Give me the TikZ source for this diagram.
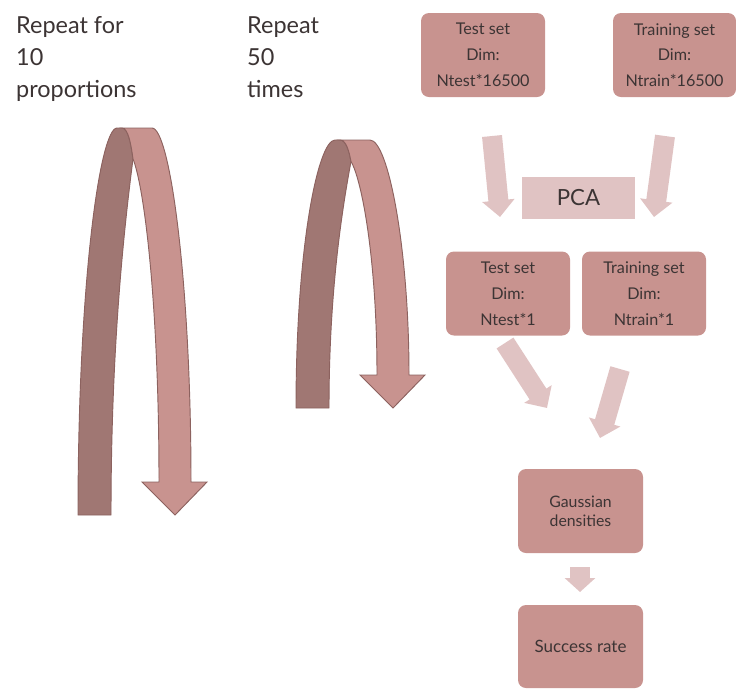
\documentclass[tikz,border=0pt]{standalone}
\usepackage{fontspec}
\setmainfont{Lato}
\usetikzlibrary{arrows.meta}

\definecolor{boxrose}{HTML}{C8938F}
\definecolor{pale}{HTML}{E0C3C3}
\definecolor{darkrose}{HTML}{A07773}
\definecolor{rim}{HTML}{8C625F}
\definecolor{ink}{HTML}{3C3434}

% U-Pfeil: #1 = linker Rand, #2 = unten, #3 = oben (in px)
\newcommand{\uturnarrow}[3]{%
	\draw[rim, line width=0.8pt, fill=darkrose] (#1,#2)
	.. controls (#1,{#3+0.4*(#2-#3)}) and ({#1+22},#3) .. ({#1+39},#3)
	-- ({#1+44},#3)
	.. controls ({#1+50},#3) and ({#1+53},{#3+0.04*(#2-#3)}) .. ({#1+55},{#3+0.08*(#2-#3)})
	.. controls ({#1+44},{#3+0.3*(#2-#3)}) and ({#1+33},{#2-0.4*(#2-#3)}) .. ({#1+33},#2)
	-- cycle;
	\draw[rim, line width=0.8pt, fill=boxrose] ({#1+44},#3) -- ({#1+74},#3)
	.. controls ({#1+92},#3) and ({#1+113},{#3+0.4*(#2-#3)}) .. ({#1+113},{#2-33})
	-- ({#1+129},{#2-33}) -- ({#1+97},#2) -- ({#1+64},{#2-33}) -- ({#1+81},{#2-33})
	.. controls ({#1+81},{#3+0.45*(#2-#3)}) and ({#1+66},{#3+0.15*(#2-#3)}) .. ({#1+55},{#3+0.08*(#2-#3)})
	.. controls ({#1+53},{#3+0.04*(#2-#3)}) and ({#1+50},#3) .. ({#1+44},#3)
	-- cycle;
}

\tikzset{
	setbox/.style={fill=boxrose, rounded corners=0.24cm, minimum width=3.72cm,
		minimum height=2.52cm, align=center, text=ink, inner sep=0pt,
		font=\fontsize{13.8}{22}\selectfont},
	flow/.style={pale, line width=0.6cm, -{Triangle[length=0.5cm, width=0.95cm]}},
	repeatnote/.style={anchor=north west, align=left, text=ink, inner sep=0pt,
		font=\fontsize{20}{27.5}\selectfont}
}

\begin{document}
\begin{tikzpicture}[x=0.03cm, y=-0.03cm]
		\useasboundingbox (0,0) rectangle (736,689);
		
		% Wiederholungen
		\node[repeatnote] (rep10) at (16,16) {Repeat for\\10\\proportions};
		\node[repeatnote] (rep50) at (247,16) {Repeat\\50\\times};
		\uturnarrow{78}{515}{128}
		\uturnarrow{296}{408}{140}
		
		% Datensaetze vor der PCA
		\node[setbox] (testfull) at (483,55) {Test set\\Dim:\\Ntest*16500};
		\node[setbox, minimum width=3.69cm] (trainfull) at (674.5,55) {Training set\\Dim:\\Ntrain*16500};
		\node[fill=pale, minimum width=3.39cm, minimum height=1.26cm, text=ink,
		font=\fontsize{19}{22}\selectfont] (pca) at (578.5,198) {PCA};
		
		% Datensaetze nach der PCA
		\node[setbox] (testred) at (508,293.5) {Test set\\Dim:\\Ntest*1};
		\node[setbox] (trainred) at (644,293.5) {Training set\\Dim:\\Ntrain*1};
		
		% Klassifikation
		\node[setbox, minimum width=3.75cm, font=\fontsize{13.5}{16}\selectfont] (gauss) at (580.5,511) {Gaussian\\densities};
		\node[setbox, minimum width=3.75cm, minimum height=2.49cm, font=\fontsize{14.5}{16}\selectfont] (rate) at (580.5,646.5) {Success rate};
		
		% Blockpfeile
		\coordinate (a1s) at (492,136);  \coordinate (a1e) at (500,217);
		\coordinate (a2s) at (665,136);  \coordinate (a2e) at (654,217);
		\coordinate (a3s) at (505,343);  \coordinate (a3e) at (547,408);
		\coordinate (a4s) at (620,369);  \coordinate (a4e) at (600,438);
		\coordinate (a5s) at (580,567);  \coordinate (a5e) at (580,592);
		\draw[flow] (a1s) -- (a1e);
		\draw[flow] (a2s) -- (a2e);
		\draw[flow] (a3s) -- (a3e);
		\draw[flow] (a4s) -- (a4e);
		\draw[flow, -{Triangle[length=0.42cm, width=0.9cm]}] (a5s) -- (a5e);
		
	\end{tikzpicture}
\end{document}
